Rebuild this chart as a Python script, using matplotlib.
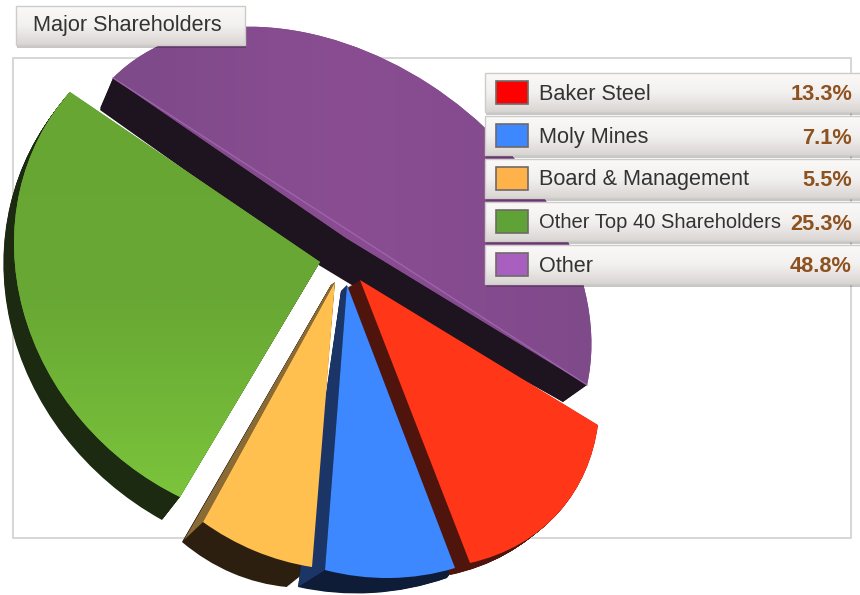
import numpy as np
import matplotlib
matplotlib.use("Agg")
import matplotlib.pyplot as plt
from matplotlib.colors import LinearSegmentedColormap
from matplotlib.patches import Rectangle, Polygon
from matplotlib.transforms import Transform

plt.rcParams['font.family'] = ['Liberation Sans', 'DejaVu Sans']

# ---- data ----
title = "Major Shareholders"
categories = ["Baker Steel", "Moly Mines", "Board & Management", "Other Top 40 Shareholders", "Other"]
values = [13.3, 7.1, 5.5, 25.3, 48.8]
value_labels = ["13.3%", "7.1%", "5.5%", "25.3%", "48.8%"]
swatch_colors = ["#ff0000", "#3d87ff", "#ffb14a", "#5fa336", "#a95fc0"]

# ---- styles and layout ----
top_colors = ["#ff3618", "#3d87ff", "#ffc04f", "#6aaa35", "#824a8c"]
side_colors = ["#4f140b", "#0f1c38", "#2c1f10", "#1b2a10", "#1e1420"]
name_sizes = [15.6, 15.6, 15.6, 14.5, 15.6]

# perspective calibration: (apex, arc start, arc middle, arc end) of each slice, in pixels
top_face = [
    [(360, 280), (598, 425), (560, 511), (470, 563)],
    [(347, 285), (455, 568), (390, 578), (325, 570)],
    [(335, 282), (312, 567), (255, 551), (203, 522)],
    [(320, 262), (180, 497), (23, 310), (70, 92)],
    [(346, 238), (113, 78), (429, 84), (587, 385)],
]
bottom_face = [
    [(346, 288), (590, 432), (548, 521), (450, 575)],
    [(341, 291), (447, 578), (372, 593), (298, 587)],
    [(331, 285), (287, 587), (232, 573), (182, 542)],
    [(316, 266), (162, 520), (10, 322), (60, 105)],
    [(329, 262), (100, 108), (413, 108), (563, 402)],
]
top_z = [9, 8.5, 7, 5, 3]
side_z = [6.5, 6, 5.5, 4, 2]


class Homography(Transform):
    input_dims = 2
    output_dims = 2
    is_affine = False
    has_inverse = False

    def __init__(self, src, dst):
        super().__init__()
        A, b = [], []
        for (x, y), (u, v) in zip(src, dst):
            A.append([x, y, 1, 0, 0, 0, -u * x, -u * y])
            A.append([0, 0, 0, x, y, 1, -v * x, -v * y])
            b += [u, v]
        self.H = np.append(np.linalg.solve(np.array(A, float), np.array(b, float)), 1).reshape(3, 3)

    def transform_non_affine(self, pts):
        pts = np.asarray(pts, float)
        p = np.c_[pts, np.ones(len(pts))] @ self.H.T
        return p[:, :2] / p[:, 2:3]


def slice_transform(w, corners):
    t1, t2 = np.radians(w.theta2), np.radians(w.theta1)   # clockwise pie: theta2 comes first
    tm = (t1 + t2) / 2
    src = [(0, 0), (np.cos(t1), np.sin(t1)), (np.cos(tm), np.sin(tm)), (np.cos(t2), np.sin(t2))]
    return Homography(src, corners)


fig = plt.figure(figsize=(8.6, 5.95), dpi=100)
ax = fig.add_axes([0, 0, 1, 1])


def pie_layer(colors, faces, zorders):
    wedges, _ = ax.pie(values, colors=colors, startangle=0, counterclock=False)
    for i, w in enumerate(wedges):
        w.set_transform(slice_transform(w, faces[i]) + ax.transData)
        w.set_zorder(zorders[i])
        w.set_linewidth(0)
        w.set_clip_on(False)
    return wedges


# extruded sides: stack of interpolated pies
for t in np.linspace(1, 0.03, 30):
    faces = [[tuple(np.array(a) + (np.array(b) - np.array(a)) * t) for a, b in zip(tf, bf)]
             for tf, bf in zip(top_face, bottom_face)]
    pie_layer(side_colors, faces, side_z)

# top faces
tops = pie_layer(top_colors, top_face, top_z)

# cut face of the purple slice and lit side bands of the yellow and blue slices
ax.add_patch(Polygon([(113, 78), (100, 110), (317, 264), (350, 284), (563, 402), (587, 385)], closed=True,
                     facecolor=side_colors[4], lw=0, zorder=2.5))
ax.add_patch(Polygon([(335, 282), (203, 522), (184, 540), (331, 285)], closed=True,
                     facecolor="#8a6b35", lw=0, zorder=5.8))
ax.add_patch(Polygon([(347, 285), (325, 570), (298, 587), (341, 291)], closed=True,
                     facecolor="#1b3566", lw=0, zorder=6.2))

# soft colour gradients on green and purple
g_cmap = LinearSegmentedColormap.from_list("g", ["#68a634", "#68a834", "#7cc63c"])
im = ax.imshow(np.linspace(0, 1, 256)[:, None], extent=(0, 340, 510, 90), cmap=g_cmap,
               aspect='auto', zorder=5.1)
im.set_clip_path(tops[3])
p_cmap = LinearSegmentedColormap.from_list("p", ["#7d4a88", "#8a4d92", "#7f4a8a"])
im = ax.imshow(np.linspace(0, 1, 256)[None, :], extent=(100, 600, 400, 20), cmap=p_cmap,
               aspect='auto', zorder=3.1)
im.set_clip_path(tops[4])
ax.plot([top_face[4][1][0], top_face[4][3][0]], [top_face[4][1][1], top_face[4][3][1]],
        color="#a468b4", lw=1.0, zorder=3.2, alpha=0.8)

# plot frame
ax.add_patch(Rectangle((13, 58), 838, 480, fill=False, ec="#d6d6d6", lw=1.4, zorder=1))

bar_cmap = LinearSegmentedColormap.from_list("b", ["#fbf9f8", "#f3f1f0", "#d9d5d3"])


def panel(x0, y0, x1, y1):
    ax.add_patch(Rectangle((x0 + 1, y0 + 3), x1 - x0, y1 - y0, fc="#000000", alpha=0.22, lw=0, zorder=19))
    ax.imshow(np.linspace(0, 1, 64)[:, None], extent=(x0, x1, y1, y0), cmap=bar_cmap,
              aspect='auto', zorder=20)
    ax.add_patch(Rectangle((x0, y0), x1 - x0, y1 - y0, fill=False, ec="#cfcbc9", lw=1, zorder=21))


# title box
panel(16, 6, 245, 45)
ax.text(33, 26, title, fontsize=15.6, color="#333333", va='center', ha='left', zorder=22)

# legend rows
row_top = [73, 116, 159, 202, 245]
row_h = 39
for y, name, val, col, fs in zip(row_top, categories, value_labels, swatch_colors, name_sizes):
    panel(485, y, 862, y + row_h)
    ax.add_patch(Rectangle((496, y + 8), 32, 23, fc=col, ec="#6e6a68", lw=1.2, zorder=22))
    ax.text(539, y + 21, name, fontsize=fs, color="#333333", va='center', ha='left', zorder=22)
    ax.text(852, y + 22, val, fontsize=15.7, color="#8d5220", va='center', ha='right',
            fontweight='bold', zorder=22)

ax.set_aspect('auto')
ax.set_xlim(0, 860)
ax.set_ylim(595, 0)
ax.axis('off')
fig.savefig("out.png", dpi=100)
